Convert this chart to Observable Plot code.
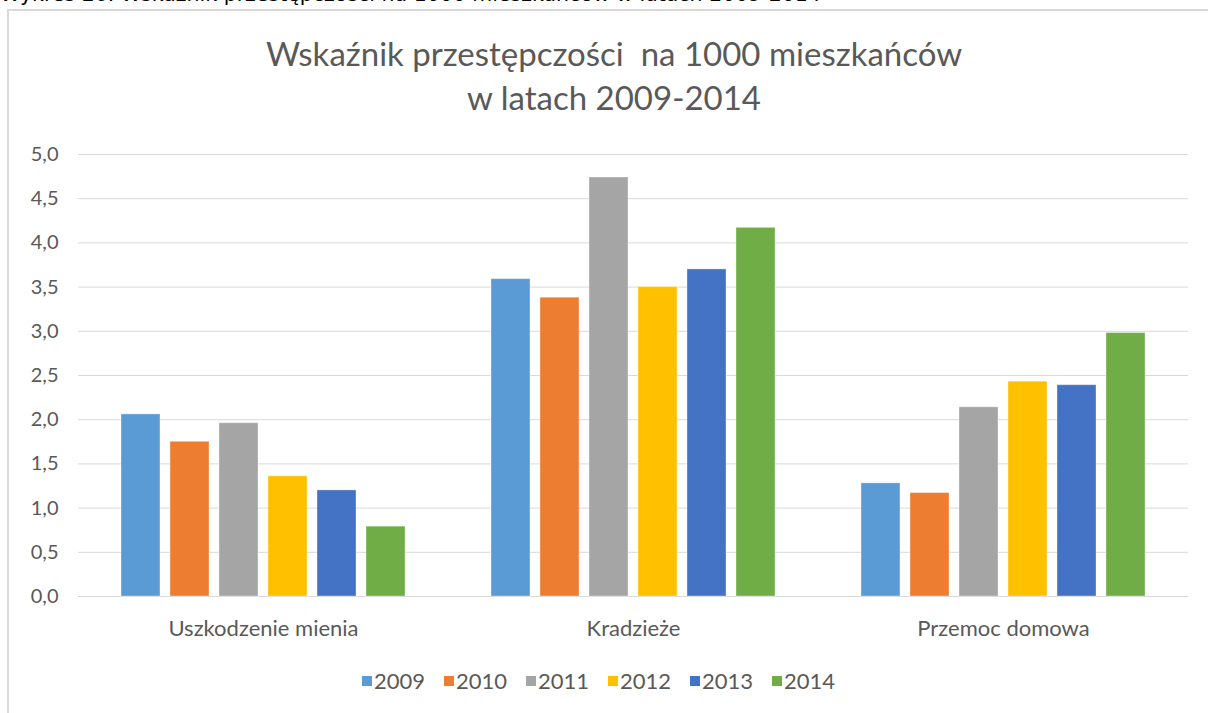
<!DOCTYPE html>
<html><head><meta charset="utf-8">
<script src="https://cdn.jsdelivr.net/npm/d3@7"></script>
<script src="https://cdn.jsdelivr.net/npm/@observablehq/plot@0.6"></script>
<style>
body{margin:0;background:#fff;font-family:Lato,"Open Sans",sans-serif;}
#page{position:relative;width:1208px;height:713px;overflow:hidden;background:#fff;}
#caption{position:absolute;left:0;top:-18px;font-family:"DejaVu Sans",sans-serif;font-size:20.5px;color:#000;white-space:nowrap;}
#frame{position:absolute;left:7px;top:9px;width:1230px;height:730px;border-left:2px solid #d9d9d9;border-top:2px solid #d9d9d9;}
#title{position:absolute;left:0;width:1228px;top:31px;text-align:center;font-size:33px;line-height:44px;color:#595959;}
#chart{position:absolute;left:0;top:140px;}
#chart svg text{fill:#595959;}
#chart svg g[aria-label="y-axis tick label"] text{font-size:20px;}
#chart svg g[aria-label="fx-axis tick label"] text{font-size:22px;}
#legend{position:absolute;top:667px;left:362px;display:flex;gap:0;font-size:22px;color:#595959;}
#legend .item{display:flex;align-items:center;width:82px;}
#legend .sw{width:10px;height:10px;margin-right:2px;}
</style></head>
<body>
<div id="page">
  <div id="caption">Wykres 26. Wskaźnik przestępczości na 1000 mieszkańców w latach 2009-2014</div>
  <div id="frame"></div>
  <div id="title">Wskaźnik przestępczości&nbsp; na 1000 mieszkańców<br>w latach 2009-2014</div>
  <div id="chart"></div>
  <div id="legend"></div>
</div>
<script>
const categories = ["Uszkodzenie mienia", "Kradzieże", "Przemoc domowa"];
const years = ["2009", "2010", "2011", "2012", "2013", "2014"];
const v2009 = [2.06, 3.59, 1.28];
const v2010 = [1.75, 3.38, 1.17];
const v2011 = [1.96, 4.74, 2.14];
const v2012 = [1.36, 3.50, 2.43];
const v2013 = [1.20, 3.70, 2.39];
const v2014 = [0.79, 4.17, 2.98];
const colors = ["#5B9BD5", "#ED7D31", "#A5A5A5", "#FFC000", "#4472C4", "#70AD47"];
const yTicks = [0, 0.5, 1, 1.5, 2, 2.5, 3, 3.5, 4, 4.5, 5];

const series = [v2009, v2010, v2011, v2012, v2013, v2014];
const data = years.flatMap((yr, i) => categories.map((c, j) => ({category: c, year: yr, value: series[i][j]})));

const chart = Plot.plot({
  width: 1208,
  height: 510,
  marginLeft: 77,
  marginRight: 19,
  marginTop: 14,
  marginBottom: 54,
  style: {fontFamily: "Lato, sans-serif", fontSize: "20px", color: "#595959", background: "transparent"},
  fx: {domain: categories, paddingInner: 0, paddingOuter: 0, label: null, tickSize: 0, tickPadding: 24, axis: "bottom"},
  x: {domain: years, paddingInner: 0.21, paddingOuter: 0.855, axis: null},
  y: {domain: [0, 5], ticks: yTicks, tickFormat: d => d.toFixed(1).replace(".", ","), label: null, tickSize: 0, tickPadding: 20},
  color: {domain: years, range: colors},
  marks: [
    Plot.ruleY(yTicks, {stroke: "#d9d9d9", strokeWidth: 1}),
    Plot.barY(data, {fx: "category", x: "year", y: "value", fill: "year", stroke: "#ffffff", strokeOpacity: 0.35, strokeWidth: 1, insetLeft: 0, insetRight: 0})
  ]
});
document.getElementById("chart").appendChild(chart);

const legend = document.getElementById("legend");
years.forEach((yr, i) => {
  const it = document.createElement("div");
  it.className = "item";
  const sw = document.createElement("span");
  sw.className = "sw";
  sw.style.background = colors[i];
  const t = document.createElement("span");
  t.textContent = yr;
  it.appendChild(sw); it.appendChild(t);
  legend.appendChild(it);
});
</script>
</body></html>
